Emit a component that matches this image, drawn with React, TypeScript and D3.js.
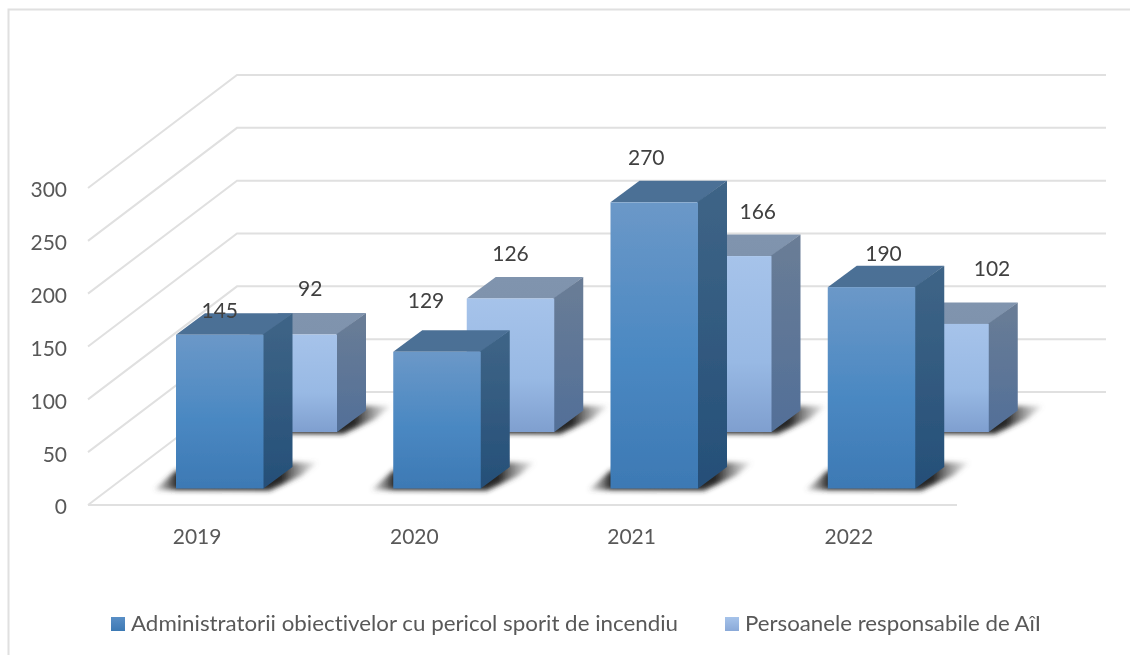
import React from "react";
import * as d3 from "d3";

const categories = ["2019", "2020", "2021", "2022"];
const administratorValues = [145, 129, 270, 190];
const responsibleValues = [92, 126, 166, 102];
const valueTicks = [0, 50, 100, 150, 200, 250, 300];
const seriesNames = ["Administratorii obiectivelor cu pericol sporit de incendiu", "Persoanele responsabile de AîI"];

// chart layout
const W = 1130, H = 655;
const frontBaseY = 505, frontTopY = 188;
const wallDx = 149, wallDy = 113;
const barInset = 88, barW = 87.5, barDx = 29, barDy = 21.5;
const floorGap = 16.5;
const seriesStep = { dx: 73.5, dy: -56.5 };

const xBand = d3.scaleBand<string>().domain(categories).range([88, 957]).padding(0);
const y = d3.scaleLinear().domain([0, 300]).range([frontBaseY, frontTopY]);
const h = (v: number) => (y(0) - y(v)) * 1.003;

const FONT = "Lato, Carlito, 'Open Sans', sans-serif";
const GRID = "#e0e0e0";
const TXT = "#595959";

const labelNudge = [
  [[0, -24], [17, -46]],
  [[-11, -51], [0, -45]],
  [[-8, -45], [30, -44]],
  [[12, -33], [47, -55.5]],
];

const pts = (a: number[][]) => a.map((p) => p.join(",")).join(" ");

function Shadow({ x, base }: { x: number; base: number }) {
  return (
    <g filter="url(#shadowBlur)">
      <polygon
        fill="url(#shadowFill)"
        points={pts([
          [x - 22, base + 1.5],
          [x, base - 18],
          [x + barW + barDx, base - 26],
          [x + barW + barDx + 25, base - 26],
          [x + barW + 38, base - 13],
          [x + barW + 6, base + 2],
        ])}
      />
    </g>
  );
}

function Bar({ x, base, value, s }: { x: number; base: number; value: number; s: number }) {
  const top = base - h(value);
  return (
    <g>
      <polygon
        fill={`url(#top${s})`}
        points={pts([
          [x, top],
          [x + barDx, top - barDy],
          [x + barW + barDx, top - barDy],
          [x + barW, top],
        ])}
      />
      <polygon
        fill={`url(#side${s})`}
        points={pts([
          [x + barW - 1, top],
          [x + barW + barDx, top - barDy],
          [x + barW + barDx, base - barDy],
          [x + barW, base],
          [x + barW - 1, base],
        ])}
      />
      <rect x={x} y={top} width={barW} height={base - top} fill={`url(#front${s})`} />
    </g>
  );
}

export default function App() {
  const frontBase = frontBaseY - floorGap;
  const backBase = frontBase + seriesStep.dy;
  const x0 = (c: string) => (xBand(c) as number) + barInset;
  return (
    <svg
      width={W}
      height={H}
      viewBox={`0 0 ${W} ${H}`}
      style={{ position: "absolute", left: 0, top: 0, background: "#fff", fontVariantLigatures: "none" }}
    >
      <defs>
        <filter id="soft" filterUnits="userSpaceOnUse" x="0" y="0" width={W} height={H}>
          <feGaussianBlur stdDeviation="0.45" />
        </filter>
        <filter id="shadowBlur" x="-20%" y="-60%" width="140%" height="220%">
          <feGaussianBlur stdDeviation="2.8" />
        </filter>
        <linearGradient id="shadowFill" x1="0" x2="1" y1="0" y2="0">
          <stop offset="0" stopColor="#555" stopOpacity="0.15" />
          <stop offset="0.14" stopColor="#262626" />
          <stop offset="0.78" stopColor="#262626" />
          <stop offset="1" stopColor="#777" stopOpacity="0.1" />
        </linearGradient>
        <linearGradient id="front0" x1="0" x2="0" y1="0" y2="1">
          <stop offset="0" stopColor="#6b98c8" />
          <stop offset="0.55" stopColor="#4a88c2" />
          <stop offset="1" stopColor="#3d79b4" />
        </linearGradient>
        <linearGradient id="side0" x1="0" x2="0" y1="0" y2="1">
          <stop offset="0" stopColor="#3f6587" />
          <stop offset="1" stopColor="#254f78" />
        </linearGradient>
        <linearGradient id="top0" x1="0" x2="0" y1="0" y2="1">
          <stop offset="0" stopColor="#4c7096" />
          <stop offset="1" stopColor="#4b6f95" />
        </linearGradient>
        <linearGradient id="front1" x1="0" x2="0" y1="0" y2="1">
          <stop offset="0" stopColor="#a6c3ea" />
          <stop offset="0.6" stopColor="#98b9e4" />
          <stop offset="1" stopColor="#7f9fcf" />
        </linearGradient>
        <linearGradient id="side1" x1="0" x2="0" y1="0" y2="1">
          <stop offset="0" stopColor="#6a7d96" />
          <stop offset="1" stopColor="#526f98" />
        </linearGradient>
        <linearGradient id="top1" x1="0" x2="0" y1="0" y2="1">
          <stop offset="0" stopColor="#8094ae" />
          <stop offset="1" stopColor="#7f93ad" />
        </linearGradient>
        <linearGradient id="swatch0" x1="0" x2="0" y1="0" y2="1">
          <stop offset="0" stopColor="#5a8fc6" />
          <stop offset="1" stopColor="#3d79b4" />
        </linearGradient>
        <linearGradient id="swatch1" x1="0" x2="0" y1="0" y2="1">
          <stop offset="0" stopColor="#a6c3ea" />
          <stop offset="1" stopColor="#8aa9d8" />
        </linearGradient>
      </defs>

      <g filter="url(#soft)">
        {/* outer frame */}
        <path d={`M8.5 ${H} V9.5 H${W}`} fill="none" stroke={GRID} strokeWidth={2} />

        {/* walls and floor */}
        {valueTicks.map((t) => (
          <path
            key={t}
            d={`M${xBand.range()[0]} ${y(t)} L${xBand.range()[0] + wallDx} ${y(t) - wallDy} H${xBand.range()[1] + wallDx}`}
            fill="none"
            stroke={GRID}
            strokeWidth={2}
          />
        ))}
        <line x1={xBand.range()[0]} x2={xBand.range()[1]} y1={y(0)} y2={y(0)} stroke={GRID} strokeWidth={2} />

        {/* back series */}
        {categories.map((c, i) => (
          <g key={c}>
            <Shadow x={x0(c) + seriesStep.dx} base={backBase} />
            <Bar x={x0(c) + seriesStep.dx} base={backBase} value={responsibleValues[i]} s={1} />
          </g>
        ))}
        {/* front series */}
        {categories.map((c, i) => (
          <g key={c}>
            <Shadow x={x0(c)} base={frontBase} />
            <Bar x={x0(c)} base={frontBase} value={administratorValues[i]} s={0} />
          </g>
        ))}

        {/* data labels */}
        <g fontFamily={FONT} fontSize={21} fill="#404040" textAnchor="middle">
          {categories.map((c, i) => (
            <g key={c}>
              <text
                x={x0(c) + barW / 2 + labelNudge[i][0][0]}
                y={frontBase - h(administratorValues[i]) + labelNudge[i][0][1]}
                dy="0.35em"
              >
                {administratorValues[i]}
              </text>
              <text
                x={x0(c) + seriesStep.dx + barW / 2 + labelNudge[i][1][0]}
                y={backBase - h(responsibleValues[i]) + labelNudge[i][1][1]}
                dy="0.35em"
              >
                {responsibleValues[i]}
              </text>
            </g>
          ))}
        </g>

        {/* value axis */}
        <g fontFamily={FONT} fontSize={21} fill={TXT} textAnchor="end">
          {valueTicks.map((t) => (
            <text key={t} x={67} y={y(t) + 2} dy="0.35em">
              {t}
            </text>
          ))}
        </g>

        {/* category axis */}
        <g fontFamily={FONT} fontSize={21} fill={TXT} textAnchor="middle">
          {categories.map((c) => (
            <text key={c} x={(xBand(c) as number) + xBand.bandwidth() / 2 + 0.5} y={537} dy="0.35em">
              {c}
            </text>
          ))}
        </g>

        {/* legend */}
        <g fontFamily={FONT} fontSize={22} fill={TXT}>
          <rect x={111} y={617} width={14} height={14} fill="url(#swatch0)" />
          <text x={131} y={631} textLength={547} lengthAdjust="spacingAndGlyphs">
            {seriesNames[0]}
          </text>
          <rect x={725} y={617} width={14} height={14} fill="url(#swatch1)" />
          <text x={745} y={631} textLength={296} lengthAdjust="spacingAndGlyphs">
            {seriesNames[1]}
          </text>
        </g>
      </g>
    </svg>
  );
}
